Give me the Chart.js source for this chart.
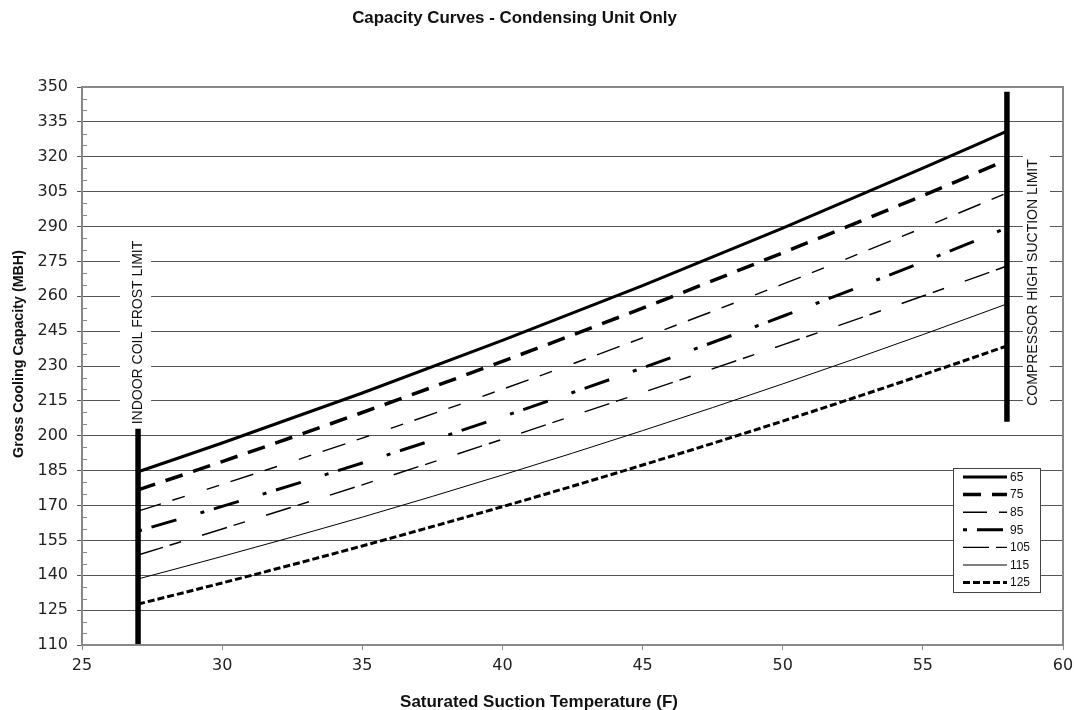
<!DOCTYPE html>
<html><head><meta charset="utf-8">
<script src="https://cdn.jsdelivr.net/npm/chart.js@4"></script>
<style>html,body{margin:0;padding:0;background:#fff;overflow:hidden}#wrap{width:1074px;height:710px;position:relative}</style>
</head><body><div id="wrap"><canvas id="c" width="1074" height="710"></canvas></div>
<script>
// ---- data ----
const temps  = [27, 30, 35, 40, 45, 50, 55, 58];
const cap65  = [184.5, 196.9, 218.4, 241.0, 264.6, 289.3, 315.1, 331.0];
const cap75  = [176.7, 188.9, 210.0, 232.0, 254.9, 278.7, 303.3, 318.6];
const cap85  = [167.6, 179.1, 199.0, 220.0, 242.1, 265.2, 289.4, 304.4];
const cap95  = [159.0, 169.6, 188.3, 208.2, 229.2, 251.4, 274.8, 289.4];
const cap105 = [148.7, 159.9, 178.9, 198.5, 218.6, 239.1, 260.1, 273.0];
const cap115 = [138.4, 148.1, 165.0, 183.1, 202.2, 222.3, 243.5, 256.7];
const cap125 = [127.6, 136.7, 152.6, 169.5, 187.4, 206.3, 226.2, 238.6];
const seriesNames = ['65', '75', '85', '95', '105', '115', '125'];
const frostLimitX = 27,   frostLimitY = [110, 203];
const suctionLimitX = 58, suctionLimitY = [206, 348];
const frostLabel = 'INDOOR COIL FROST LIMIT';
const suctionLabel = 'COMPRESSOR HIGH SUCTION LIMIT';
const yMin = 110, yMax = 350, yStep = 15;
const xMin = 25, xMax = 60, xStep = 5;
const titleText = 'Capacity Curves - Condensing Unit Only';
const xTitle = 'Saturated Suction Temperature (F)';
const yTitle = 'Gross Cooling Capacity (MBH)';

// ---- styles ----
const seriesValues = [cap65, cap75, cap85, cap95, cap105, cap115, cap125];
const styles = [
  {w: 3,   dash: []},
  {w: 3.5, dash: [18, 11]},
  {w: 1.4, dash: [24, 12, 13, 23, 13, 12]},
  {w: 3,   dash: [4, 10, 26, 25]},
  {w: 1.4, dash: [26, 7, 12, 22]},
  {w: 1,   dash: []},
  {w: 3,   dash: [7, 3]}
];
const tickFont = {family: "'DejaVu Sans', Verdana, sans-serif", size: 16};
const boldFam = "'Liberation Sans', Arial, sans-serif";

const datasets = seriesValues.map((vals, i) => ({
  label: seriesNames[i],
  data: temps.map((t, j) => ({x: t, y: vals[j]})),
  borderColor: '#000', borderWidth: styles[i].w, borderDash: styles[i].dash,
  pointRadius: 0, tension: 0.3, cubicInterpolationMode: 'monotone', fill: false, borderCapStyle: 'butt'
}));
datasets.push({label: 'frost', data: frostLimitY.map(v => ({x: frostLimitX, y: v})),
  borderColor: '#000', borderWidth: 5.5, pointRadius: 0, borderCapStyle: 'butt'});
datasets.push({label: 'suction', data: suctionLimitY.map(v => ({x: suctionLimitX, y: v})),
  borderColor: '#000', borderWidth: 5.5, pointRadius: 0, borderCapStyle: 'butt'});

function fitText(ctx, text, weight, family, targetW) {
  ctx.font = weight + ' 20px ' + family;
  const w = ctx.measureText(text).width;
  const size = 20 * targetW / w;
  ctx.font = weight + ' ' + size.toFixed(2) + 'px ' + family;
}

const decor = {
  id: 'decor',
  beforeDatasetsDraw(chart) {
    const {ctx, chartArea: a, scales: {x, y}} = chart;
    ctx.save();
    ctx.strokeStyle = '#888'; ctx.lineWidth = 1;
    for (let v = yMin; v <= yMax; v += 5) {
      if ((v - yMin) % yStep === 0) continue;
      const py = Math.round(y.getPixelForValue(v)) + 0.5;
      ctx.beginPath(); ctx.moveTo(a.left, py); ctx.lineTo(a.left + 5, py); ctx.stroke();
    }
    ctx.fillStyle = '#fff';
    const fx = x.getPixelForValue(frostLimitX) - 18, fy0 = y.getPixelForValue(frostLimitY[1]) - 4;
    ctx.fillRect(fx, fy0 - 196, 31, 196);
    const sx = x.getPixelForValue(suctionLimitX) + 16;
    ctx.fillRect(sx, y.getPixelForValue(suctionLimitY[1]) + 50, 27, 270);
    ctx.restore();
  },
  afterDatasetsDraw(chart) {
    const {ctx, chartArea: a, scales: {x, y}} = chart;
    ctx.save();
    ctx.strokeStyle = '#888'; ctx.lineWidth = 2;
    ctx.strokeRect(a.left, a.top, a.right - a.left, a.bottom - a.top);
    ctx.fillStyle = '#111';
    ctx.font = '14px "Liberation Sans", Arial, sans-serif';
    ctx.textAlign = 'center'; ctx.textBaseline = 'middle';
    ctx.save();
    ctx.translate(x.getPixelForValue(frostLimitX) + 0.5, y.getPixelForValue(244.4));
    ctx.rotate(-Math.PI / 2); ctx.fillText(frostLabel, 0, 0); ctx.restore();
    ctx.save();
    ctx.translate(x.getPixelForValue(58.94), y.getPixelForValue(265.9));
    ctx.rotate(-Math.PI / 2); ctx.fillText(suctionLabel, 0, 0); ctx.restore();
    // legend
    const lx0 = 953, ly0 = 468, lw = 87, lh = 124;
    ctx.fillStyle = '#fff'; ctx.fillRect(lx0, ly0, lw, lh);
    ctx.strokeStyle = '#444'; ctx.lineWidth = 1;
    ctx.strokeRect(lx0 + 0.5, ly0 + 0.5, lw, lh);
    ctx.font = '12px "Liberation Sans", Arial, sans-serif';
    ctx.textAlign = 'left';
    seriesNames.forEach((n, i) => {
      const cy = 477 + i * 17.6;
      ctx.beginPath(); ctx.strokeStyle = '#000';
      ctx.lineWidth = styles[i].w; ctx.setLineDash(styles[i].dash);
      ctx.moveTo(963, cy); ctx.lineTo(1007, cy); ctx.stroke();
      ctx.setLineDash([]);
      ctx.fillStyle = '#111';
      ctx.fillText(n, 1010, cy + 0.5);
    });
    // titles
    ctx.fillStyle = '#111'; ctx.textAlign = 'center'; ctx.textBaseline = 'middle';
    fitText(ctx, titleText, 'bold', boldFam, 325);
    ctx.fillText(titleText, 514.5, 18);
    fitText(ctx, xTitle, 'bold', boldFam, 278);
    ctx.fillText(xTitle, 539, 702);
    ctx.save(); ctx.translate(19, 354); ctx.rotate(-Math.PI / 2);
    fitText(ctx, yTitle, 'bold', boldFam, 208);
    ctx.fillText(yTitle, 0, 0); ctx.restore();
    ctx.restore();
  }
};

new Chart(document.getElementById('c'), {
  type: 'line',
  data: {datasets},
  plugins: [decor],
  options: {
    responsive: false, animation: false, devicePixelRatio: 1,
    layout: {padding: {top: 87, right: 11, bottom: 0, left: 0}},
    plugins: {legend: {display: false}, title: {display: false}, tooltip: {enabled: false}},
    scales: {
      x: {type: 'linear', min: xMin, max: xMax,
        ticks: {stepSize: xStep, font: tickFont, color: '#222', padding: 6, maxRotation: 0},
        grid: {drawOnChartArea: false, tickLength: 5, color: '#888'},
        border: {color: '#888', width: 2},
        afterFit(s) { s.height = 65; s.paddingLeft = 0; s.paddingRight = 0; }
      },
      y: {type: 'linear', min: yMin, max: yMax,
        ticks: {stepSize: yStep, font: tickFont, color: '#222', padding: 9},
        grid: {color: '#555', lineWidth: 1, tickLength: 5},
        border: {color: '#888', width: 2},
        afterFit(s) { s.width = 82; s.paddingTop = 0; s.paddingBottom = 0; }
      }
    }
  }
});
</script></body></html>
